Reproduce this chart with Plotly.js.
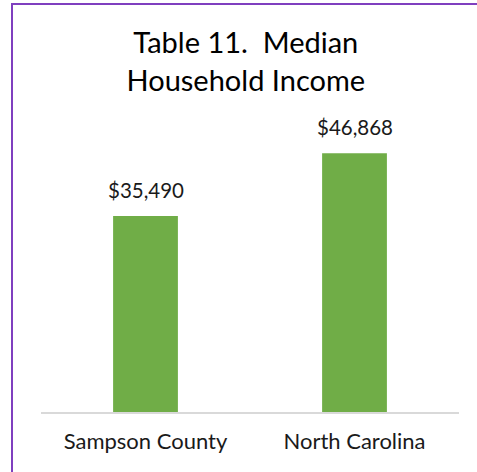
<!DOCTYPE html>
<html>
<head>
<meta charset="utf-8">
<script src="https://cdn.plot.ly/plotly-3.0.1.min.js"></script>
<style>
  html, body { margin: 0; padding: 0; background: #fff; }
  #wrap { position: relative; width: 477px; height: 472px; overflow: hidden; }
  #chart { position: absolute; left: 0; top: 0; width: 477px; height: 472px; }
  #frame { position: absolute; left: 11px; top: 3px; width: 520px; height: 520px;
           border-left: 2px solid #7F3FBF; border-top: 2px solid #7F3FBF; pointer-events: none; }
</style>
</head>
<body>
<div id="wrap">
  <div id="chart"></div>
  <div id="frame"></div>
</div>
<script>
const categories = ["Sampson County", "North Carolina"];
const incomes = [35490, 46868];
const valueLabels = ["$35,490", "$46,868"];

const FONT = "Lato, 'Open Sans', sans-serif";

const trace = {
  type: "bar",
  x: categories,
  y: incomes,
  marker: { color: "#70AD47" },
  hoverinfo: "none"
};

const annotations = categories.map((c, i) => ({
  x: c, y: incomes[i], xref: "x", yref: "y",
  text: valueLabels[i], showarrow: false,
  yanchor: "bottom", yshift: 12,
  font: { family: FONT, size: 20.5, color: "#1a1a1a" }
}));

const layout = {
  width: 477, height: 472,
  margin: { l: 41, r: 18, t: 136, b: 60 },
  paper_bgcolor: "#fff", plot_bgcolor: "#fff",
  showlegend: false,
  bargap: 0.69,
  title: {
    text: "Table 11.  Median<br>Household Income",
    font: { family: FONT, size: 29, color: "#000" },
    xref: "paper", x: 0.49, xanchor: "center",
    yref: "container", y: 1 - 53 / 472, yanchor: "top"
  },
  xaxis: {
    showline: true, linecolor: "#d9d9d9", linewidth: 2,
    ticks: "", showgrid: false, zeroline: false,
    tickfont: { family: FONT, size: 22, color: "#1a1a1a" },
    ticklabelstandoff: 9
  },
  yaxis: {
    range: [0, 50000], visible: false, showgrid: false, zeroline: false
  },
  annotations: annotations
};

Plotly.newPlot("chart", [trace], layout, { staticPlot: true, displayModeBar: false });
</script>
</body>
</html>
